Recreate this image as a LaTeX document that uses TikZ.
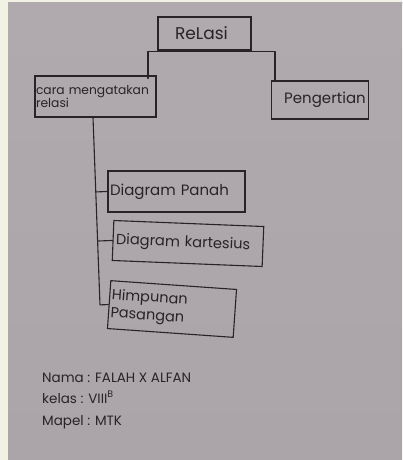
\documentclass[tikz,border=0pt]{standalone}
\usepackage{fontspec}
\setmainfont{Poppins}
\usetikzlibrary{calc}
\definecolor{paper}{RGB}{171,164,168}
\definecolor{paperlt}{RGB}{176,169,173}
\definecolor{ink}{RGB}{40,36,38}
\definecolor{strip}{RGB}{242,242,228}
\begin{document}
\begin{tikzpicture}[x=1pt,y=-1pt,
  box/.style={draw=ink,line width=1.1pt,text=ink,inner sep=3pt},
  link/.style={draw=ink,line width=1.1pt,line cap=round,line join=round},
  info/.style={text=ink,anchor=base west,inner sep=0pt,font=\fontsize{13.5}{15}\selectfont}]
\useasboundingbox (0,0) rectangle (402,460);
\fill[strip] (0,0) rectangle (402,460);
\shade[top color=paperlt,bottom color=paper] (8,3) rectangle (402,460);
% boxes
\node[box,minimum width=93pt,minimum height=33pt,font=\fontsize{17}{19}\selectfont] (relasi) at (204.5,33.5) {\hspace*{-6pt}ReLasi};
\node[box,minimum width=121pt,minimum height=41pt,text width=119pt,inner sep=1pt,align=left,font=\fontsize{12.3}{13.5}\selectfont] (cara) at (95.5,96.5) {\rule{0pt}{0pt}cara mengatakan\\relasi\\[-4pt]};
\node[box,minimum width=96pt,minimum height=38pt,font=\fontsize{15}{17}\selectfont] (pengertian) at (320,100) {\hspace*{10pt}\raisebox{-5pt}{Pengertian}};
\node[box,minimum width=137pt,minimum height=41pt,text width=133pt,inner sep=2pt,align=left,font=\fontsize{15}{17}\selectfont] (panah) at (176.5,191.5) {Diagram Panah};
\node[box,rotate=-2.3,minimum width=150pt,minimum height=40pt,text width=146pt,inner sep=2pt,align=left,font=\fontsize{14.6}{17}\selectfont] (kartesius) at (188,243.5) {\hspace*{1pt}Diagram kartesius};
\node[box,rotate=-4,minimum width=126pt,minimum height=48pt,text width=122pt,inner sep=2pt,align=left,font=\fontsize{14.5}{18}\selectfont] (himpunan) at (172,309) {Himpunan\\Pasangan};
% connectors from Relasi
\coordinate (jl) at ($(relasi.south)+(-56.5,1)$);
\coordinate (jr) at ($(relasi.south)+(70.5,1)$);
\draw[link] ($(jl|-cara.north)+(0,3)$) -- (jl) -- (jr) -- ($(jr|-pengertian.north)+(0,1)$);
% trunk
\coordinate (ttop) at ($(cara.south)+(-2.5,0)$);
\coordinate (tdir) at (100,305);
\coordinate (b1) at ($(ttop)!(panah.west)!(tdir)$);
\coordinate (b2) at ($(ttop)!(kartesius.west)!(tdir)$);
\coordinate (b3) at ($(ttop)!(himpunan.west)!(tdir)$);
\draw[link] (ttop) -- (b3) -- (himpunan.west);
\draw[link] (b1) -- (panah.west);
\draw[link] (b2) -- (kartesius.west);
% info
\node[info] (nama) at (42,382) {Nama : FALAH X ALFAN};
\node[info] (kelas) at (42,403) {kelas : VIII\textsuperscript{B}};
\node[info] (mapel) at (42,425) {Mapel : MTK};
\end{tikzpicture}
\end{document}
